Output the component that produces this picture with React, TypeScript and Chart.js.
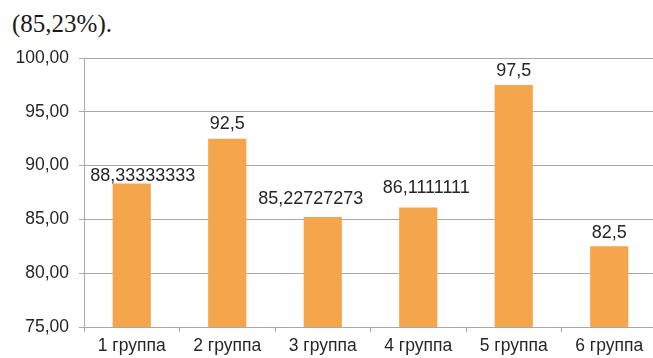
import React, { useEffect, useRef } from "react";
import { Chart, registerables } from "chart.js";

Chart.register(...registerables);

const categories = ["1 группа", "2 группа", "3 группа", "4 группа", "5 группа", "6 группа"];
const values = [88.33333333, 92.5, 85.22727273, 86.1111111, 97.5, 82.5];
const yMin = 75;
const yMax = 100;
const yStep = 5;
const headingText = "(85,23%).";

// small hand-placed nudges of the value labels, as in the original figure
const labelDx = [11, 0, -12, 8, 0, 0];
const labelDy = [6, -1, -4, -5, 0, 1];

const fmt = (v: number) => String(v).replace(".", ",");

const valueLabels = {
  id: "valueLabels",
  afterDatasetsDraw(chart: any) {
    const ctx = chart.ctx;
    const meta = chart.getDatasetMeta(0);
    ctx.save();
    ctx.font = "18px 'Liberation Sans', Arial, sans-serif";
    ctx.fillStyle = "#262626";
    ctx.textAlign = "center";
    ctx.textBaseline = "alphabetic";
    meta.data.forEach((bar: any, i: number) => {
      ctx.fillText(fmt(values[i]), bar.x + labelDx[i], bar.y - 9 + labelDy[i]);
    });
    ctx.restore();
  },
};

export default function App() {
  const ref = useRef<HTMLCanvasElement>(null);
  useEffect(() => {
    if (!ref.current) return;
    const grid = "#a8a8a8";
    const chart = new Chart(ref.current, {
      type: "bar",
      data: {
        labels: categories,
        datasets: [
          {
            data: values,
            backgroundColor: "#F5A54B",
            borderWidth: 0,
            barPercentage: 0.4,
            categoryPercentage: 1,
          },
        ],
      },
      options: {
        animation: false,
        responsive: false,
        maintainAspectRatio: false,
        layout: { padding: { left: 0, right: 1, top: 58, bottom: 0 } },
        plugins: {
          legend: { display: false },
          tooltip: { enabled: false },
          title: { display: false },
        },
        scales: {
          x: {
            afterFit: (s: any) => {
              s.height = 31;
            },
            grid: {
              offset: true,
              drawOnChartArea: false,
              drawTicks: true,
              tickLength: 5,
              color: grid,
            },
            border: { display: true, color: grid },
            ticks: {
              color: "#262626",
              font: { family: "'Liberation Sans', Arial, sans-serif", size: 17.5 },
              padding: 4,
              maxRotation: 0,
              autoSkip: false,
            },
          },
          y: {
            min: yMin,
            max: yMax,
            afterFit: (s: any) => {
              s.width = 84;
            },
            grid: { color: grid, tickLength: 5 },
            border: { display: true, color: grid },
            ticks: {
              stepSize: yStep,
              color: "#262626",
              font: { family: "'Liberation Sans', Arial, sans-serif", size: 17.5 },
              padding: 10,
              callback: (v: any) => Number(v).toFixed(2).replace(".", ","),
            },
          },
        },
      },
      plugins: [valueLabels],
    });
    return () => chart.destroy();
  }, []);

  return (
    <div
      style={{
        position: "fixed",
        left: 0,
        top: 0,
        width: 653,
        height: 358,
        overflow: "hidden",
        background: "#fff",
      }}
    >
      <div
        style={{
          position: "absolute",
          left: 12,
          top: 10,
          fontFamily: "'Liberation Serif', 'Times New Roman', serif",
          fontSize: 25,
          lineHeight: "28px",
          color: "#1a1a1a",
        }}
      >
        {headingText}
      </div>
      <canvas
        ref={ref}
        width={658}
        height={358}
        style={{ position: "absolute", left: 0, top: 0, width: 658, height: 358 }}
      />
    </div>
  );
}
